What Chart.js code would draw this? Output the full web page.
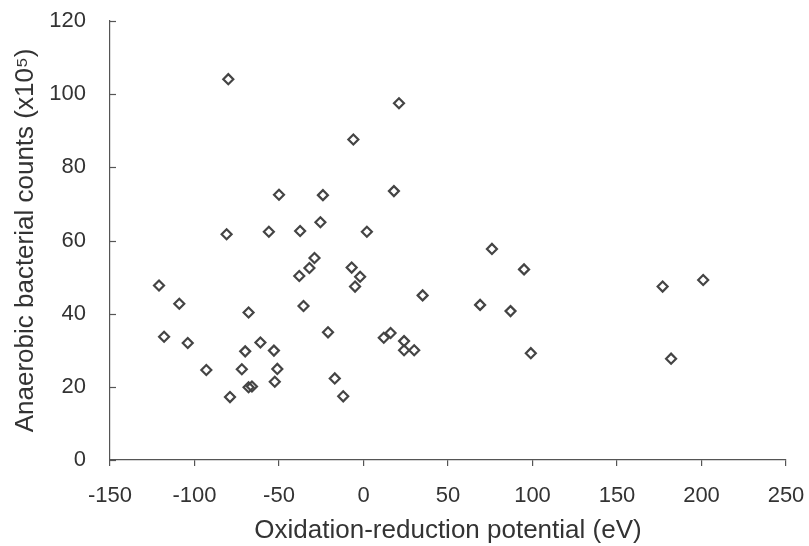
<!DOCTYPE html>
<html><head><meta charset="utf-8">
<script src="https://cdn.jsdelivr.net/npm/chart.js@4.4.1/dist/chart.umd.min.js"></script>
<style>html,body{margin:0;padding:0;background:#fff}#wrap{width:809px;height:546px}</style>
</head><body><div id="wrap"><canvas id="c" width="809" height="546"></canvas></div>
<script>
// Oxidation-reduction potential (eV) of each sample
const orpValues = [-80, 21, -6, -50, -24, 18, -81, -56, -37.5, -25.5, 2, -29, -32, -7, -38, -2,
  -121, -109, -118, -104, -93, -79, -68, -70, -72, -68, -66, -61, -53, -51, -52.5,
  -35.5, -21, -17, -12, -5, 12, 16, 24, 24, 30, 35, 95, 69, 87, 99, 177, 201, 182, 76];
// Anaerobic bacterial counts (x10^5) of each sample
const bacterialCounts = [104.1, 97.5, 87.6, 72.5, 72.4, 73.5, 61.7, 62.4, 62.6, 65, 62.4, 55.2, 52.5, 52.6, 50.3, 50.1,
  47.7, 42.7, 33.7, 32, 24.6, 17.2, 40.3, 29.7, 24.8, 19.9, 20.1, 32.1, 29.9, 24.9, 21.4,
  42.1, 34.9, 22.3, 17.4, 47.4, 33.4, 34.7, 32.5, 30, 30, 45, 52.1, 42.4, 40.7, 29.2, 47.4, 49.2, 27.7, 57.7];
const xTickValues = [-150, -100, -50, 0, 50, 100, 150, 200, 250];
const yTickValues = [0, 20, 40, 60, 80, 100, 120];
const xTitle = 'Oxidation-reduction potential (eV)';
const yTitle = 'Anaerobic bacterial counts (x10\u2075)';

const points = orpValues.map((v, i) => ({ x: v, y: bacterialCounts[i] }));
const textColor = '#333';
const axisColor = '#555';
const fam = 'Liberation Sans, Arial, sans-serif';

const inwardYTicks = {
  id: 'inwardYTicks',
  afterDraw(chart) {
    const ctx = chart.ctx, ys = chart.scales.y, left = chart.chartArea.left;
    ctx.save();
    ctx.strokeStyle = axisColor; ctx.lineWidth = 1.2;
    yTickValues.forEach(v => {
      const py = Math.round(ys.getPixelForValue(v)) + 0.5;
      ctx.beginPath(); ctx.moveTo(left, py); ctx.lineTo(left + 6, py); ctx.stroke();
    });
    ctx.restore();
  }
};

new Chart(document.getElementById('c'), {
  type: 'scatter',
  data: { datasets: [{
    data: points,
    pointStyle: 'rectRot',
    pointRadius: 5,
    pointBorderWidth: 2.2,
    pointBackgroundColor: 'rgba(255,255,255,0)',
    pointBorderColor: '#444'
  }]},
  options: {
    responsive: false, animation: false, devicePixelRatio: 1,
    layout: { padding: { left: 0, top: 21, right: 23, bottom: 0 } },
    plugins: { legend: { display: false }, tooltip: { enabled: false } },
    scales: {
      x: {
        type: 'linear', min: -150, max: 250,
        afterBuildTicks: s => { s.ticks = xTickValues.map(v => ({ value: v })); },
        afterFit: s => { s.height = 86; s.paddingLeft = 0; s.paddingRight = 0; },
        grid: { drawOnChartArea: false, drawTicks: true, tickLength: 6, color: axisColor, lineWidth: 1.2 },
        border: { color: axisColor, width: 1.2 },
        ticks: { color: textColor, font: { family: fam, size: 22 }, padding: 17, maxRotation: 0 },
        title: { display: true, text: xTitle, color: textColor, font: { family: fam, size: 26 }, padding: { top: 4, bottom: 0 } }
      },
      y: {
        type: 'linear', min: 0, max: 120,
        afterBuildTicks: s => { s.ticks = yTickValues.map(v => ({ value: v })); },
        afterFit: s => { s.width = 110; s.paddingTop = 0; s.paddingBottom = 0; },
        grid: { drawOnChartArea: false, drawTicks: false, color: axisColor },
        border: { color: axisColor, width: 1.2 },
        ticks: { color: textColor, font: { family: fam, size: 22 }, padding: 24 },
        title: { display: true, text: yTitle, color: textColor, font: { family: fam, size: 26 }, padding: { top: 10, bottom: 4 } }
      }
    }
  },
  plugins: [inwardYTicks]
});
</script></body></html>
